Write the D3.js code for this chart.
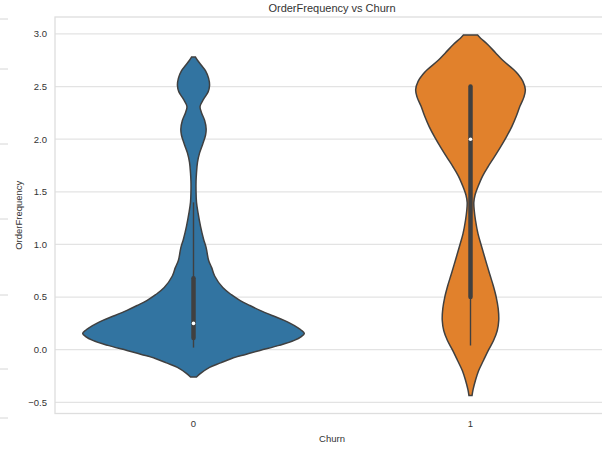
<!DOCTYPE html>
<html lang="en">
  <head>
    <meta charset="UTF-8" />
    <title>OrderFrequency vs Churn – Violin</title>
    <script src="https://d3js.org/d3.v7.min.js"></script>
    <style>
      body {
        margin: 0;
        background: white;
        font-family: 'Liberation Sans', Arial, sans-serif;
      }

      svg {
        display: block;
        background: white;
      }

      text {
        fill: #333;
      }
    </style>
  </head>
  <body>
    <svg width="602" height="451"></svg>

    <script>
      // Categories and colours
      const churnGroups = ['0', '1'];
      const groupColors = ['#3274a1', '#e1812c'];
      const yTicks = [-0.5, 0.0, 0.5, 1.0, 1.5, 2.0, 2.5, 3.0];

      // Kernel density profile of each group: [OrderFrequency, density]
      const density0 = [
        [-0.26, 0.027], [-0.225, 0.064], [-0.168, 0.145], [-0.125, 0.245],
        [-0.083, 0.345], [-0.045, 0.47], [-0.007, 0.6], [0.041, 0.773],
        [0.088, 0.909], [0.125, 0.973], [0.155, 1.0], [0.185, 0.973],
        [0.212, 0.936], [0.245, 0.882], [0.279, 0.818], [0.325, 0.709],
        [0.374, 0.6], [0.42, 0.509], [0.469, 0.418], [0.52, 0.345],
        [0.59, 0.264], [0.7, 0.191], [0.78, 0.164], [0.85, 0.136],
        [0.97, 0.114], [1.05, 0.091], [1.17, 0.064], [1.3, 0.041],
        [1.4, 0.027], [1.5, 0.023], [1.6, 0.023], [1.68, 0.027],
        [1.78, 0.036], [1.87, 0.055], [1.95, 0.082], [2.04, 0.109],
        [2.1, 0.114], [2.18, 0.1], [2.25, 0.073], [2.31, 0.059],
        [2.38, 0.091], [2.45, 0.132], [2.51, 0.145], [2.58, 0.136],
        [2.65, 0.109], [2.7, 0.073], [2.75, 0.036], [2.78, 0.018],
      ];

      const density1 = [
        [-0.435, 0.014], [-0.38, 0.023], [-0.29, 0.045], [-0.2, 0.073],
        [-0.1, 0.118], [0.0, 0.164], [0.09, 0.209], [0.18, 0.241],
        [0.28, 0.255], [0.39, 0.25], [0.5, 0.232], [0.61, 0.205],
        [0.72, 0.173], [0.85, 0.136], [0.98, 0.1], [1.1, 0.068],
        [1.23, 0.045], [1.32, 0.034], [1.4, 0.03], [1.47, 0.041],
        [1.55, 0.068], [1.65, 0.109], [1.74, 0.159], [1.83, 0.214],
        [1.93, 0.273], [2.02, 0.323], [2.12, 0.373], [2.22, 0.414],
        [2.31, 0.445], [2.4, 0.482], [2.47, 0.495], [2.55, 0.473],
        [2.62, 0.427], [2.66, 0.391], [2.75, 0.291], [2.82, 0.227],
        [2.9, 0.155], [2.96, 0.091], [2.99, 0.064],
      ];

      // Inner box: [whiskerLow, q1, median, q3, whiskerHigh]
      const boxStats0 = [0.02, 0.11, 0.25, 0.68, 1.4];
      const boxStats1 = [0.04, 0.5, 2.0, 2.5, 2.5];

      const violins = [
        { group: churnGroups[0], color: groupColors[0], dens: density0, box: boxStats0 },
        { group: churnGroups[1], color: groupColors[1], dens: density1, box: boxStats1 },
      ];

      const margin = { top: 17, right: -7, bottom: 37.5, left: 55 },
        width = 602 - margin.left - margin.right,
        height = 451 - margin.top - margin.bottom;

      const svg = d3.select('svg');

      // faint edge of the neighbouring panel on the far left
      svg
        .append('g')
        .selectAll('line')
        .data([19, 69, 144, 219, 295, 369, 418])
        .join('line')
        .attr('x1', 0)
        .attr('x2', 8)
        .attr('y1', (d) => d)
        .attr('y2', (d) => d)
        .attr('stroke', '#d6d6d6')
        .attr('stroke-width', 1);

      const g = svg
        .append('g')
        .attr('transform', `translate(${margin.left},${margin.top})`);

      const allVals = density0.concat(density1).map((d) => d[0]);
      const lo = d3.min(allVals),
        hi = d3.max(allVals),
        pad = (hi - lo) * 0.05;

      const y = d3
        .scaleLinear()
        .domain([lo - pad, hi + pad])
        .range([height, 0]);

      const x = d3
        .scaleBand()
        .domain(churnGroups)
        .range([0, width])
        .padding(0);

      const maxDens = d3.max(density0.concat(density1), (d) => d[1]);
      const w = d3
        .scaleLinear()
        .domain([0, maxDens])
        .range([0, x.bandwidth() * 0.4]);

      // grid
      g.append('g')
        .selectAll('line')
        .data(yTicks)
        .join('line')
        .attr('x1', 0)
        .attr('x2', width)
        .attr('y1', (d) => y(d))
        .attr('y2', (d) => y(d))
        .attr('stroke', '#e3e3e3')
        .attr('stroke-width', 1.3);

      // spines
      g.append('rect')
        .attr('x', 0)
        .attr('y', 0)
        .attr('width', width)
        .attr('height', height)
        .attr('fill', 'none')
        .attr('stroke', '#dedede')
        .attr('stroke-width', 1.3);

      // violins
      const area = d3
        .area()
        .y((d) => y(d[0]))
        .curve(d3.curveCatmullRom);

      const vg = g
        .selectAll('.violin')
        .data(violins)
        .join('g')
        .attr('class', 'violin')
        .attr('transform', (d) => `translate(${x(d.group) + x.bandwidth() / 2},0)`);

      vg.append('path')
        .attr('d', (d) =>
          area.x0((p) => -w(p[1])).x1((p) => w(p[1]))(d.dens),
        )
        .attr('fill', (d) => d.color)
        .attr('stroke', '#404040')
        .attr('stroke-width', 1.5);

      // whiskers
      vg.append('line')
        .attr('y1', (d) => y(d.box[0]))
        .attr('y2', (d) => y(d.box[4]))
        .attr('stroke', '#404040')
        .attr('stroke-width', 1.4);

      // box
      vg.append('line')
        .attr('y1', (d) => y(d.box[1]))
        .attr('y2', (d) => y(d.box[3]))
        .attr('stroke', '#404040')
        .attr('stroke-width', 4.5)
        .attr('stroke-linecap', 'round');

      // median
      vg.append('circle')
        .attr('cy', (d) => y(d.box[2]))
        .attr('r', 1.8)
        .attr('fill', 'white');

      // Y axis labels
      g.append('g')
        .selectAll('text')
        .data(yTicks)
        .join('text')
        .attr('x', -8)
        .attr('y', (d) => y(d))
        .attr('dy', '0.35em')
        .attr('text-anchor', 'end')
        .attr('font-size', 9.5)
        .text((d) => d.toFixed(1).replace('-', '\u2212'));

      // X axis labels
      g.append('g')
        .selectAll('text')
        .data(churnGroups)
        .join('text')
        .attr('x', (d) => x(d) + x.bandwidth() / 2)
        .attr('y', height + 13)
        .attr('text-anchor', 'middle')
        .attr('font-size', 9.5)
        .text((d) => d);

      // titles
      g.append('text')
        .attr('x', width / 2)
        .attr('y', -5)
        .attr('text-anchor', 'middle')
        .attr('font-size', 11)
        .text('OrderFrequency vs Churn');

      g.append('text')
        .attr('x', (x('0') + x('1')) / 2 + x.bandwidth() / 2)
        .attr('y', height + 28)
        .attr('text-anchor', 'middle')
        .attr('font-size', 9.5)
        .text('Churn');

      g.append('text')
        .attr('transform', 'rotate(-90)')
        .attr('x', -height / 2)
        .attr('y', -33)
        .attr('text-anchor', 'middle')
        .attr('font-size', 9.5)
        .text('OrderFrequency');
    </script>
  </body>
</html>
